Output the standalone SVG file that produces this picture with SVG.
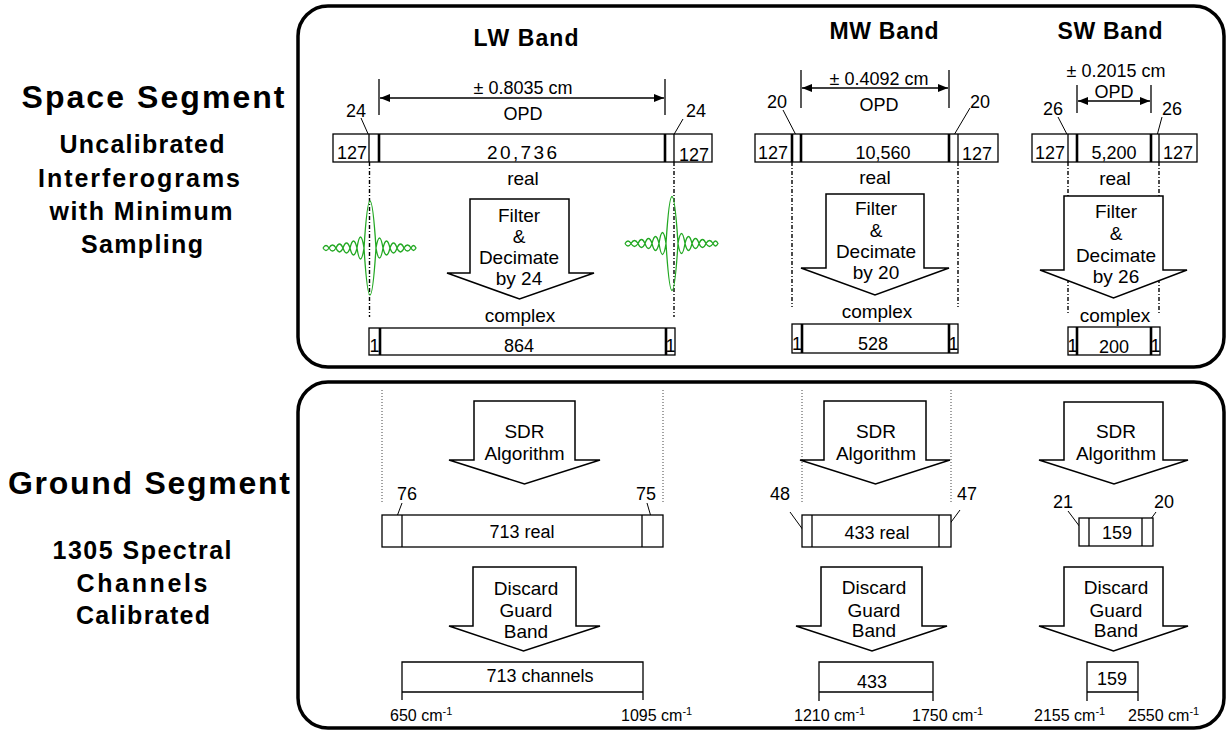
<svg xmlns="http://www.w3.org/2000/svg" width="1228" height="734" viewBox="0 0 1228 734">
  <style>
    text { font-family: "Liberation Sans", Arial, sans-serif; fill: #000; }
    .seg { font-size: 32px; font-weight: bold; text-anchor: middle; }
    .sub { font-size: 25px; font-weight: bold; text-anchor: middle; }
    .band { font-size: 23px; font-weight: bold; text-anchor: middle; }
    .t { font-size: 18px; text-anchor: middle; }
    .ta { font-size: 19px; text-anchor: middle; }
    .wn { font-size: 16px; }
    .sup { font-size: 11px; }
    .panel { fill: none; stroke: #000; stroke-width: 3.5; }
    .bar { fill: #fff; stroke: #000; stroke-width: 1.3; }
    .div { stroke: #000; stroke-width: 1.3; }
    .divb { stroke: #000; stroke-width: 2.6; }
    .lead { stroke: #000; stroke-width: 1; fill: none; }
    .blk { fill: #fff; stroke: #000; stroke-width: 1.5; stroke-linejoin: miter; }
    .dd { stroke: #000; stroke-width: 1.4; stroke-dasharray: 4 2 1 2; fill: none; }
    .dot { stroke: #444; stroke-width: 1; stroke-dasharray: 1 2; fill: none; }
    .dim { stroke: #000; stroke-width: 1.3; fill: none; }
    .wave { fill: none; stroke: #22a822; stroke-width: 1.3; }
  </style>
  <defs>
    <marker id="ah" viewBox="0 0 10 8" refX="10" refY="4" markerWidth="10" markerHeight="8" markerUnits="userSpaceOnUse" orient="auto-start-reverse">
      <path d="M0,0 L10,4 L0,8 Z" fill="#000"/>
    </marker>
    <path id="igram" class="wave" d="M364 248 Q370 154 376 248 Q370 342 364 248
      M357 248 Q360.5 226 364 248 Q360.5 270 357 248
      M350 248 Q353.5 234 357 248 Q353.5 262 350 248
      M343 248 Q346.5 238 350 248 Q346.5 258 343 248
      M336 248 Q339.5 240 343 248 Q339.5 256 336 248
      M329 248 Q332.5 242 336 248 Q332.5 254 329 248
      M323 248 Q326 243 329 248 Q326 253 323 248
      M376 248 Q379.5 228 383 248 Q379.5 268 376 248
      M383 248 Q386.5 234 390 248 Q386.5 262 383 248
      M390 248 Q393.5 238 397 248 Q393.5 258 390 248
      M397 248 Q400.5 240 404 248 Q400.5 256 397 248
      M404 248 Q407.5 242 411 248 Q407.5 254 404 248
      M411 248 Q413.5 243 416 248 Q413.5 253 411 248"/>
  </defs>

  <!-- segment panels -->
  <g id="panels">
    <rect class="panel" x="298" y="6" width="926" height="361" rx="30"/>
    <rect class="panel" x="298" y="382" width="926" height="346" rx="30"/>
  </g>

  <!-- left-hand captions -->
  <g id="captions">
    <text class="seg" x="153" y="108" textLength="263" lengthAdjust="spacing">Space Segment</text>
    <text class="sub" x="142" y="153" textLength="165" lengthAdjust="spacing">Uncalibrated</text>
    <text class="sub" x="139" y="187" textLength="202" lengthAdjust="spacing">Interferograms</text>
    <text class="sub" x="141" y="220" textLength="183" lengthAdjust="spacing">with Minimum</text>
    <text class="sub" x="142" y="253" textLength="122" lengthAdjust="spacing">Sampling</text>
    <text class="seg" x="149" y="494" textLength="282" lengthAdjust="spacing">Ground Segment</text>
    <text class="sub" x="142" y="559" textLength="179" lengthAdjust="spacing">1305 Spectral</text>
    <text class="sub" x="142" y="592" textLength="131" lengthAdjust="spacing">Channels</text>
    <text class="sub" x="143" y="624" textLength="134" lengthAdjust="spacing">Calibrated</text>
  </g>

  <!-- band headings -->
  <g id="bands">
    <text class="band" x="526" y="46" textLength="105" lengthAdjust="spacing">LW Band</text>
    <text class="band" x="884" y="39" textLength="109" lengthAdjust="spacing">MW Band</text>
    <text class="band" x="1110" y="39" textLength="105" lengthAdjust="spacing">SW Band</text>
  </g>

  <!-- connectors: OPD dimensions, leaders, guide lines -->
  <g id="connectors">
    <!-- LW OPD -->
    <line class="dim" x1="379" y1="79" x2="379" y2="115"/>
    <line class="dim" x1="665" y1="79" x2="665" y2="115"/>
    <line class="dim" x1="380" y1="98" x2="664" y2="98" marker-start="url(#ah)" marker-end="url(#ah)"/>
    <!-- MW OPD -->
    <line class="dim" x1="801" y1="70" x2="801" y2="108"/>
    <line class="dim" x1="949" y1="70" x2="949" y2="108"/>
    <line class="dim" x1="802" y1="88" x2="948" y2="88" marker-start="url(#ah)" marker-end="url(#ah)"/>
    <!-- SW OPD -->
    <line class="dim" x1="1077" y1="85" x2="1077" y2="113"/>
    <line class="dim" x1="1151" y1="85" x2="1151" y2="113"/>
    <line class="dim" x1="1078" y1="101" x2="1150" y2="101" marker-start="url(#ah)" marker-end="url(#ah)"/>

    <!-- leaders, space segment -->
    <line class="lead" x1="361" y1="118" x2="373" y2="145"/>
    <line class="lead" x1="683" y1="119" x2="669" y2="143"/>
    <line class="lead" x1="783" y1="110" x2="797" y2="137"/>
    <line class="lead" x1="970" y1="108" x2="954" y2="135"/>
    <line class="lead" x1="1058" y1="117" x2="1071" y2="142"/>
    <line class="lead" x1="1162" y1="117" x2="1155" y2="143"/>

    <!-- leaders, ground segment -->
    <line class="lead" x1="402" y1="503" x2="393" y2="527"/>
    <line class="lead" x1="647" y1="503" x2="654" y2="527"/>
    <line class="lead" x1="790" y1="512" x2="806" y2="534"/>
    <line class="lead" x1="960" y1="510" x2="943" y2="533"/>
    <line class="lead" x1="1068" y1="511" x2="1083" y2="531"/>
    <line class="lead" x1="1156" y1="512" x2="1145" y2="527"/>

    <!-- dash-dot guides under the interferograms -->
    <line class="dd" x1="369.5" y1="162" x2="369.5" y2="317"/>
    <line class="dd" x1="674" y1="162" x2="674" y2="317"/>
    <line class="dd" x1="792" y1="162" x2="792" y2="307"/>
    <line class="dd" x1="958" y1="162" x2="958" y2="307"/>
    <line class="dd" x1="1068" y1="162" x2="1068" y2="313"/>
    <line class="dd" x1="1159" y1="162" x2="1159" y2="313"/>

    <!-- dotted guides above the spectra -->
    <line class="dot" x1="382" y1="390" x2="382" y2="503"/>
    <line class="dot" x1="663" y1="390" x2="663" y2="503"/>
    <line class="dot" x1="802" y1="390" x2="802" y2="503"/>
    <line class="dot" x1="951" y1="390" x2="951" y2="503"/>
  </g>

  <!-- interferogram sketches -->
  <g id="interferograms">
    <use href="#igram"/>
    <use href="#igram" transform="translate(302,-4.5)"/>
  </g>

  <!-- ===== LW band ===== -->
  <g id="lw-igm">
    <rect class="bar" x="333" y="134" width="379" height="28"/>
    <line class="div" x1="369" y1="134" x2="369" y2="162"/>
    <line class="divb" x1="379" y1="134" x2="379" y2="162"/>
    <line class="divb" x1="665" y1="134" x2="665" y2="162"/>
    <line class="div" x1="674" y1="134" x2="674" y2="162"/>
    <text class="t" x="352" y="159">127</text>
    <text class="t" x="522" y="159" style="font-size:19px" textLength="70" lengthAdjust="spacing">20,736</text>
    <text class="t" x="694" y="161">127</text>
    <text class="t" x="523" y="94">± 0.8035 cm</text>
    <text class="t" x="523" y="120">OPD</text>
    <text class="t" x="356" y="117">24</text>
    <text class="t" x="696" y="117">24</text>
    <text class="ta" x="523" y="185">real</text>
  </g>
  <g id="lw-filter">
    <path class="blk" d="M470,199 L569,199 L569,273 L594,273 L519.5,299 L447,273 L470,273 Z"/>
    <text class="ta" x="519" y="222">Filter</text>
    <text class="ta" x="519" y="243">&amp;</text>
    <text class="ta" x="519" y="264">Decimate</text>
    <text class="ta" x="519" y="285">by 24</text>
  </g>
  <g id="lw-complex">
    <text class="ta" x="520" y="322">complex</text>
    <rect class="bar" x="369" y="328" width="306" height="27"/>
    <line class="divb" x1="380" y1="328" x2="380" y2="355"/>
    <line class="divb" x1="666" y1="328" x2="666" y2="355"/>
    <text class="t" x="374.5" y="352">1</text>
    <text class="t" x="519" y="352">864</text>
    <text class="t" x="670.5" y="352">1</text>
  </g>
  <g id="lw-sdr">
    <path class="blk" d="M474,401 L575,401 L575,460 L600,460 L524.5,484 L449,460 L474,460 Z"/>
    <text class="ta" x="524.5" y="438">SDR</text>
    <text class="ta" x="524.5" y="460">Algorithm</text>
  </g>
  <g id="lw-real">
    <rect class="bar" x="382" y="515" width="281" height="32"/>
    <line class="div" x1="402" y1="515" x2="402" y2="547"/>
    <line class="div" x1="642" y1="515" x2="642" y2="547"/>
    <text class="t" x="522" y="538">713 real</text>
    <text class="t" x="407" y="500">76</text>
    <text class="t" x="646" y="500">75</text>
  </g>
  <g id="lw-discard">
    <path class="blk" d="M473,567 L576,567 L576,626 L600,626 L523.5,651 L449,626 L473,626 Z"/>
    <text class="ta" x="526" y="595">Discard</text>
    <text class="ta" x="526" y="617">Guard</text>
    <text class="ta" x="526" y="638">Band</text>
  </g>
  <g id="lw-channels">
    <path class="bar" d="M402,700 L402,662 L643,662 L643,700 M402,692 L643,692"/>
    <text class="t" x="540" y="682">713 channels</text>
    <text class="wn" x="390" y="721">650 cm<tspan class="sup" dy="-6">-1</tspan></text>
    <text class="wn" x="621" y="721">1095 cm<tspan class="sup" dy="-6">-1</tspan></text>
  </g>

  <!-- ===== MW band ===== -->
  <g id="mw-igm">
    <rect class="bar" x="755" y="134" width="243" height="28"/>
    <line class="divb" x1="792" y1="134" x2="792" y2="162"/>
    <line class="divb" x1="801" y1="134" x2="801" y2="162"/>
    <line class="divb" x1="949" y1="134" x2="949" y2="162"/>
    <line class="div" x1="958" y1="134" x2="958" y2="162"/>
    <text class="t" x="773" y="159">127</text>
    <text class="t" x="883" y="159">10,560</text>
    <text class="t" x="977" y="160">127</text>
    <text class="t" x="879" y="85">± 0.4092 cm</text>
    <text class="t" x="879" y="111">OPD</text>
    <text class="t" x="777" y="108">20</text>
    <text class="t" x="980" y="108">20</text>
    <text class="ta" x="875" y="184">real</text>
  </g>
  <g id="mw-filter">
    <path class="blk" d="M826,194 L924,194 L924,268 L949,268 L875,295 L801,268 L826,268 Z"/>
    <text class="ta" x="876" y="215">Filter</text>
    <text class="ta" x="876" y="237">&amp;</text>
    <text class="ta" x="876" y="258">Decimate</text>
    <text class="ta" x="876" y="279">by 20</text>
  </g>
  <g id="mw-complex">
    <text class="ta" x="877" y="318">complex</text>
    <rect class="bar" x="792" y="324" width="166" height="29"/>
    <line class="divb" x1="802" y1="324" x2="802" y2="353"/>
    <line class="divb" x1="949" y1="324" x2="949" y2="353"/>
    <text class="t" x="797" y="350">1</text>
    <text class="t" x="873" y="350">528</text>
    <text class="t" x="953.5" y="350">1</text>
  </g>
  <g id="mw-sdr">
    <path class="blk" d="M824,401 L926,401 L926,460 L950,460 L875.5,484 L800,460 L824,460 Z"/>
    <text class="ta" x="876" y="438">SDR</text>
    <text class="ta" x="876" y="460">Algorithm</text>
  </g>
  <g id="mw-real">
    <rect class="bar" x="802" y="515" width="149" height="32"/>
    <line class="div" x1="812" y1="515" x2="812" y2="547"/>
    <line class="div" x1="939" y1="515" x2="939" y2="547"/>
    <text class="t" x="877" y="539">433 real</text>
    <text class="t" x="780" y="500">48</text>
    <text class="t" x="967" y="500">47</text>
  </g>
  <g id="mw-discard">
    <path class="blk" d="M821,567 L922,567 L922,626 L947,626 L872,651 L796,626 L821,626 Z"/>
    <text class="ta" x="874" y="594">Discard</text>
    <text class="ta" x="874" y="617">Guard</text>
    <text class="ta" x="874" y="637">Band</text>
  </g>
  <g id="mw-channels">
    <path class="bar" d="M819,701 L819,662 L933,662 L933,701 M819,692 L933,692"/>
    <text class="t" x="872" y="688">433</text>
    <text class="wn" x="794" y="721">1210 cm<tspan class="sup" dy="-6">-1</tspan></text>
    <text class="wn" x="912" y="721">1750 cm<tspan class="sup" dy="-6">-1</tspan></text>
  </g>

  <!-- ===== SW band ===== -->
  <g id="sw-igm">
    <rect class="bar" x="1032" y="134" width="165" height="28"/>
    <line class="div" x1="1068" y1="134" x2="1068" y2="162"/>
    <line class="divb" x1="1077" y1="134" x2="1077" y2="162"/>
    <line class="divb" x1="1151" y1="134" x2="1151" y2="162"/>
    <line class="div" x1="1159" y1="134" x2="1159" y2="162"/>
    <text class="t" x="1050" y="159">127</text>
    <text class="t" x="1114" y="159">5,200</text>
    <text class="t" x="1178" y="159">127</text>
    <text class="t" x="1116" y="77">± 0.2015 cm</text>
    <text class="t" x="1114" y="98">OPD</text>
    <text class="t" x="1053" y="115">26</text>
    <text class="t" x="1172" y="115">26</text>
    <text class="ta" x="1115" y="185">real</text>
  </g>
  <g id="sw-filter">
    <path class="blk" d="M1064,196 L1163,196 L1163,270 L1187,270 L1113.5,298 L1040,270 L1064,270 Z"/>
    <text class="ta" x="1116" y="218">Filter</text>
    <text class="ta" x="1116" y="240">&amp;</text>
    <text class="ta" x="1116" y="262">Decimate</text>
    <text class="ta" x="1116" y="283">by 26</text>
  </g>
  <g id="sw-complex">
    <text class="ta" x="1115" y="322">complex</text>
    <rect class="bar" x="1068" y="327" width="92" height="28"/>
    <line class="divb" x1="1077" y1="327" x2="1077" y2="355"/>
    <line class="divb" x1="1151" y1="327" x2="1151" y2="355"/>
    <text class="t" x="1072.5" y="352">1</text>
    <text class="t" x="1114" y="353">200</text>
    <text class="t" x="1155.5" y="352">1</text>
  </g>
  <g id="sw-sdr">
    <path class="blk" d="M1064,402 L1163,402 L1163,460 L1188,460 L1114,484 L1039,460 L1064,460 Z"/>
    <text class="ta" x="1116" y="438">SDR</text>
    <text class="ta" x="1116" y="460">Algorithm</text>
  </g>
  <g id="sw-real">
    <rect class="bar" x="1079" y="518" width="74" height="28"/>
    <line class="div" x1="1089" y1="518" x2="1089" y2="546"/>
    <line class="div" x1="1142" y1="518" x2="1142" y2="546"/>
    <text class="t" x="1117" y="539">159</text>
    <text class="t" x="1063" y="508">21</text>
    <text class="t" x="1164" y="508">20</text>
  </g>
  <g id="sw-discard">
    <path class="blk" d="M1064,567 L1163,567 L1163,626 L1188,626 L1113.5,651 L1039,626 L1064,626 Z"/>
    <text class="ta" x="1116" y="594">Discard</text>
    <text class="ta" x="1116" y="617">Guard</text>
    <text class="ta" x="1116" y="637">Band</text>
  </g>
  <g id="sw-channels">
    <path class="bar" d="M1087,701 L1087,662 L1138,662 L1138,701 M1087,692 L1138,692"/>
    <text class="t" x="1112" y="685">159</text>
    <text class="wn" x="1034" y="721">2155 cm<tspan class="sup" dy="-6">-1</tspan></text>
    <text class="wn" x="1128" y="721">2550 cm<tspan class="sup" dy="-6">-1</tspan></text>
  </g>
</svg>
